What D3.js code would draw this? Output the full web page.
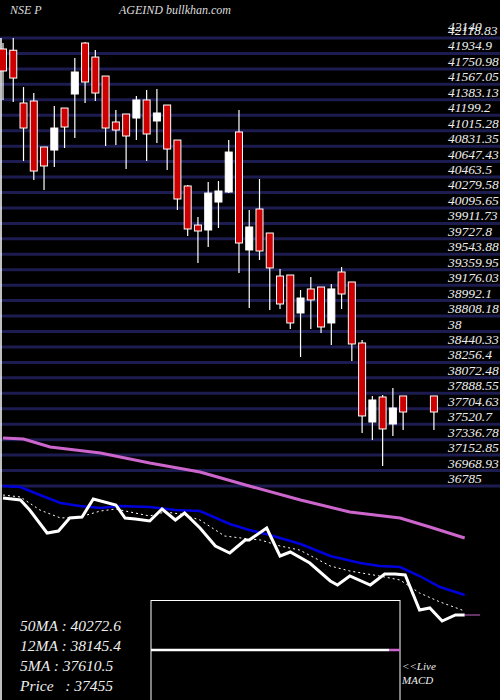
<!DOCTYPE html>
<html><head><meta charset="utf-8">
<script src="https://cdn.jsdelivr.net/npm/d3@7"></script>
<style>body{margin:0;background:#000}svg{display:block}</style>
</head><body>
<svg id="c" width="500" height="700"></svg>
<script>
// OHLC candles (null = no candle)
const opens  = [41988,41973,41345,41369,40821,40785,41285,41452,42059,41892,41666,41119,41214,41166,41381,41131,41321,40904,40357,39892,39833,40166,40285,41000,39595,40083,39797,39285,39297,38845,39131,39154,38726,39333,39214,38488,37547,37845,37523,37857,null,null,37857];
const highs  = [42059,42119,41535,41464,40821,41309,41285,41880,42071,41976,41666,41262,41214,41428,41500,41512,41321,40904,40369,39988,40404,40416,40904,41262,40071,40440,39797,39369,39297,39119,39273,39154,39190,39393,39214,38523,37857,37869,37952,37857,null,null,37857];
const lows   = [41381,41357,40654,40428,40309,40583,40809,40928,41345,41369,40833,40845,40559,40904,40654,40869,40547,40071,39761,39440,39631,39857,40273,39321,38904,39476,38880,38892,38654,38321,38654,38607,38464,38892,38273,37416,37333,37023,37380,37452,null,null,37452];
const closes = [41726,41642,41047,40535,40595,41047,41059,41714,41595,41464,41047,41023,40952,41381,40976,41226,40797,40202,39845,39821,40273,40297,40761,39678,39869,39583,39381,38952,38726,39023,39000,38678,39131,39071,38476,37619,37809,37464,37714,37666,null,null,37666];
const tickLabels = ["42118.83","41934.9","41750.98","41567.05","41383.13","41199.2","41015.28","40831.35","40647.43","40463.5","40279.58","40095.65","39911.73","39727.8","39543.88","39359.95","39176.03","38992.1","38808.18","38","38440.33","38256.4","38072.48","37888.55","37704.63","37520.7","37336.78","37152.85","36968.93","36785"];
const tickValues = [42118.83,41934.9,41750.98,41567.05,41383.13,41199.2,41015.28,40831.35,40647.43,40463.5,40279.58,40095.65,39911.73,39727.8,39543.88,39359.95,39176.03,38992.1,38808.18,38624.25,38440.33,38256.4,38072.48,37888.55,37704.63,37520.7,37336.78,37152.85,36968.93,36785];
// indicator panel lines: [candle index, indicator units]
const ma50 = [[0,192],[2,191],[4.6,183],[9.5,177],[14.3,167],[19.2,158],[24,144],[29,130],[33.8,118],[38.7,112],[41.6,103],[45,92]];
const ma12 = [[0,144],[1.7,143],[3.6,135],[5.6,127],[7.5,124],[9.5,122],[11.4,124],[14.3,123],[16.8,120],[19.2,119],[22.1,106],[24,100],[26,95],[29,86],[31.9,74],[34.8,67],[36.7,64],[38.7,63],[40.6,54],[42.6,43],[45,35]];
const ma5  = [[0,132],[1.7,130],[2.6,120],[4.3,97],[5.4,99],[6.5,112],[7.7,113],[8.8,131],[11,125],[11.9,112],[12.9,111],[14.3,109],[15.5,121],[16.8,110],[17.7,117],[19.2,102],[20.7,84],[22.1,77],[23.6,90],[24,90],[25.7,102],[27,74],[28,78],[29.9,67],[31.9,49],[32.6,45],[33.8,54],[35.8,45],[37.2,56],[38.2,56],[39.2,55],[40.6,20],[41.6,22],[42.8,9],[44.1,15],[45,15]];
const ma5s = [[0,135],[1.7,133],[3.6,120],[5.6,112],[7.5,113],[9.5,119],[11,121],[12.4,118],[14.3,114],[15.8,118],[17.3,116],[19.2,110],[21.6,94],[24,91],[25.1,90],[27,84],[28.9,80],[31.9,64],[33.8,59],[36.7,54],[38.7,50],[40.6,37],[42.6,28],[45,19]];
const title = ["NSE P","AGEIND bullkhan.com"];
const infoLines = ["50MA : 40272.6","12MA : 38145.4","5MA : 37610.5","Price   : 37455"];

const svg = d3.select("#c");
const x = d3.scaleLinear().domain([0,45]).range([3,464.7]);
const y = d3.scaleLinear().domain([42118.83,36785]).range([38,486]);
const yi = d3.scaleLinear().domain([0,200]).range([630,430]);
const font = "'Liberation Serif','DejaVu Serif',serif";

svg.append("rect").attr("width",500).attr("height",700).attr("fill","#000");
svg.selectAll("line.g").data(tickValues).enter().append("line")
  .attr("x1",0).attr("x2",500).attr("y1",d=>y(d)).attr("y2",d=>y(d))
  .attr("stroke","#1c1c50").attr("stroke-width",3);
svg.append("line").attr("x1",1).attr("x2",1).attr("y1",38).attr("y2",700).attr("stroke","#fff").attr("stroke-width",1.5);
svg.selectAll("text.t").data(tickLabels).enter().append("text")
  .attr("x",448).attr("y",(d,i)=>y(tickValues[i])-3)
  .attr("fill","#eee").attr("font-family",font).attr("font-style","italic").attr("font-size",13.5).text(d=>d);
svg.append("text").attr("x",448).attr("y",y(tickValues[0])-7).attr("fill","#eee").attr("font-family",font).attr("font-style","italic").attr("font-size",13.5).text("42140");
svg.append("text").attr("x",10).attr("y",14).attr("fill","#ddd").attr("font-family",font).attr("font-style","italic").attr("font-size",12).text(title[0]);
svg.append("text").attr("x",119).attr("y",14).attr("fill","#ddd").attr("font-family",font).attr("font-style","italic").attr("font-size",12).text(title[1]);
const idx = d3.range(opens.length).filter(i=>opens[i]!=null);
const g = svg.append("g");
g.selectAll("line.w").data(idx).enter().append("line")
  .attr("x1",i=>x(i)).attr("x2",i=>x(i)).attr("y1",i=>y(highs[i])).attr("y2",i=>y(lows[i]))
  .attr("stroke","#fff").attr("stroke-width",1.2);
g.selectAll("rect.b").data(idx).enter().append("rect")
  .attr("x",i=>x(i)-3.5).attr("width",7)
  .attr("y",i=>y(Math.max(opens[i],closes[i])))
  .attr("height",i=>Math.max(1,y(Math.min(opens[i],closes[i]))-y(Math.max(opens[i],closes[i]))))
  .attr("fill",i=>closes[i]<opens[i]?"#cc0000":"#fff").attr("stroke","#fff").attr("stroke-width",1);
const ln = d3.line().x(d=>x(d[0])).y(d=>yi(d[1]));
svg.append("path").attr("d",ln(ma50)).attr("fill","none").attr("stroke","#cc66cc").attr("stroke-width",3);
svg.append("path").attr("d",ln(ma12)).attr("fill","none").attr("stroke","#0000dd").attr("stroke-width",2.5);
svg.append("path").attr("d",ln(ma5s)).attr("fill","none").attr("stroke","#fff").attr("stroke-width",1).attr("stroke-dasharray","2,3");
svg.append("path").attr("d",ln(ma5)).attr("fill","none").attr("stroke","#fff").attr("stroke-width",3);
svg.append("line").attr("x1",x(45)).attr("x2",x(46.5)).attr("y1",yi(15)).attr("y2",yi(15)).attr("stroke","#cc66cc").attr("stroke-width",1);
svg.append("rect").attr("x",151).attr("y",600.5).attr("width",249).attr("height",110).attr("fill","none").attr("stroke","#fff").attr("stroke-width",1);
svg.append("line").attr("x1",151).attr("x2",389).attr("y1",650).attr("y2",650).attr("stroke","#fff").attr("stroke-width",2.5);
svg.append("line").attr("x1",389).attr("x2",400).attr("y1",650).attr("y2",650).attr("stroke","#cc66cc").attr("stroke-width",2.5);
svg.append("text").attr("x",402).attr("y",670).attr("fill","#eee").attr("font-family",font).attr("font-style","italic").attr("font-size",11).text("<<Live");
svg.append("text").attr("x",402).attr("y",684).attr("fill","#eee").attr("font-family",font).attr("font-style","italic").attr("font-size",11).text("MACD");
svg.selectAll("text.i").data(infoLines).enter().append("text")
  .attr("x",20).attr("y",(d,i)=>631+i*20).attr("fill","#eee").attr("font-family",font).attr("font-style","italic").attr("font-size",15.5).attr("xml:space","preserve").style("white-space","pre").text(d=>d);
</script>
</body></html>
